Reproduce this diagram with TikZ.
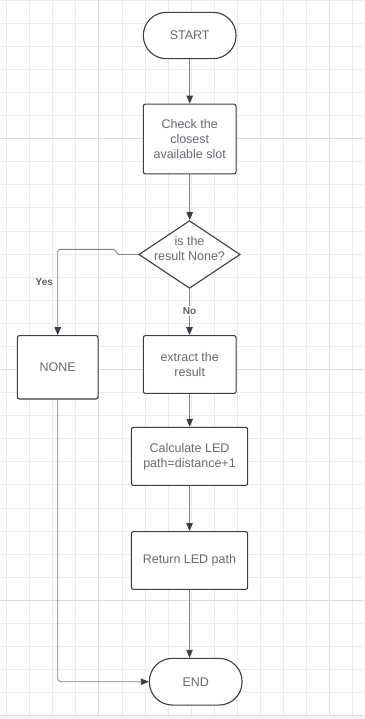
\documentclass[tikz,border=0pt]{standalone}
\usepackage{fontspec}
\setmainfont{Liberation Sans}
\usetikzlibrary{shapes.geometric,arrows.meta}
\definecolor{gridminor}{HTML}{EBEBEB}
\definecolor{gridmajor}{HTML}{DDDDDD}
\definecolor{boxline}{HTML}{3B3E44}
\definecolor{connline}{HTML}{7E8288}
\definecolor{txt}{HTML}{676A70}
\tikzset{
  shapebase/.style={draw=boxline, line width=1.1pt, fill=white, inner sep=0pt, align=center,
    text=txt, font=\fontsize{12.5}{15}\selectfont},
  proc/.style={shapebase, rectangle, rounded corners=2pt},
  term/.style={shapebase, rectangle, rounded corners=23pt},
  dia/.style={shapebase, diamond},
  conn/.style={draw=connline, line width=0.9pt, -{Triangle[length=8pt,width=6.5pt,fill=boxline,color=boxline]}},
  elabel/.style={text=txt!90!black, font=\fontsize{10}{12}\selectfont\bfseries, inner sep=1.5pt}
}
\begin{document}
\begin{tikzpicture}[x=1pt,y=-1pt]
\useasboundingbox (0,0) rectangle (364,719);
\fill[white] (0,0) rectangle (364,719);
% grid
\foreach \k in {0,...,15}{
  \pgfmathsetmacro{\xx}{6.7+23.05*\k}
  \draw[gridminor, line width=0.9pt] (\xx,0) -- (\xx,716);
}
\foreach \k in {-1,...,29}{
  \pgfmathsetmacro{\yy}{23.3+23.08*\k}
  \draw[gridminor, line width=0.9pt] (0,\yy) -- (364,\yy);
}
\foreach \k in {4,14}{
  \pgfmathsetmacro{\xx}{6.7+23.05*\k}
  \draw[gridmajor, line width=1pt] (\xx,0) -- (\xx,716);
}
\foreach \k in {5,15,25}{
  \pgfmathsetmacro{\yy}{23.3+23.08*\k}
  \draw[gridmajor, line width=1pt] (0,\yy) -- (364,\yy);
}
\fill[gray!8] (0,716) rectangle (364,719);
\draw[gridmajor, line width=1.4pt] (0,715.7) -- (364,715.7);

% nodes
\node[term, minimum width=92.7pt, minimum height=46.3pt] (start) at (189.7,35.5) {START};
\node[proc, minimum width=92.7pt, minimum height=69.7pt] (check) at (189.7,139) {Check the\\closest\\available slot};
\node[dia, minimum width=101.3pt, minimum height=67.7pt] (dec) at (189.5,254.5) {};
\node[align=center, text=txt, font=\fontsize{12.5}{15}\selectfont, inner sep=0pt] (dectxt) at (189.5,249) {is the\\result None?};
\node[proc, minimum width=80.7pt, minimum height=63.3pt] (none) at (57.7,367.3) {NONE};
\node[proc, minimum width=92.7pt, minimum height=57.7pt] (extract) at (189.7,364.5) {extract the\\result};
\node[proc, minimum width=116.3pt, minimum height=58pt] (calc) at (189.5,456.3) {Calculate LED\\path=distance+1};
\node[proc, minimum width=116.3pt, minimum height=57.7pt] (ret) at (189.5,560.5) {Return LED path};
\node[term, minimum width=92.7pt, minimum height=46.7pt] (end) at (195.7,681.7) {END};

% connectors
\draw[conn] (start.south) -- (check.north);
\draw[conn] (check.south) -- (check.south |- dec.north);
\draw[conn] (dec.south) -- node[elabel, fill=white, pos=0.47] (no) {No} (dec.south |- extract.north);
\draw[conn] (extract.south) -- (extract.south |- calc.north);
\draw[conn] (calc.south) -- (calc.south |- ret.north);
\draw[conn] (ret.south) -- (ret.south |- end.north);
\coordinate (yj1) at (117,254.5);
\coordinate (yj2) at (115.5,249.3);
\draw[conn, rounded corners=2.5pt] (dec.west) -- (yj1) -- (yj2) -- (none.north |- yj2) -- (none.north);
\node[elabel] (yes) at (44.3,281.7) {Yes};
\draw[conn, rounded corners=3pt] (none.south) -- (none.south |- end.west) -- (end.west);
\end{tikzpicture}
\end{document}
